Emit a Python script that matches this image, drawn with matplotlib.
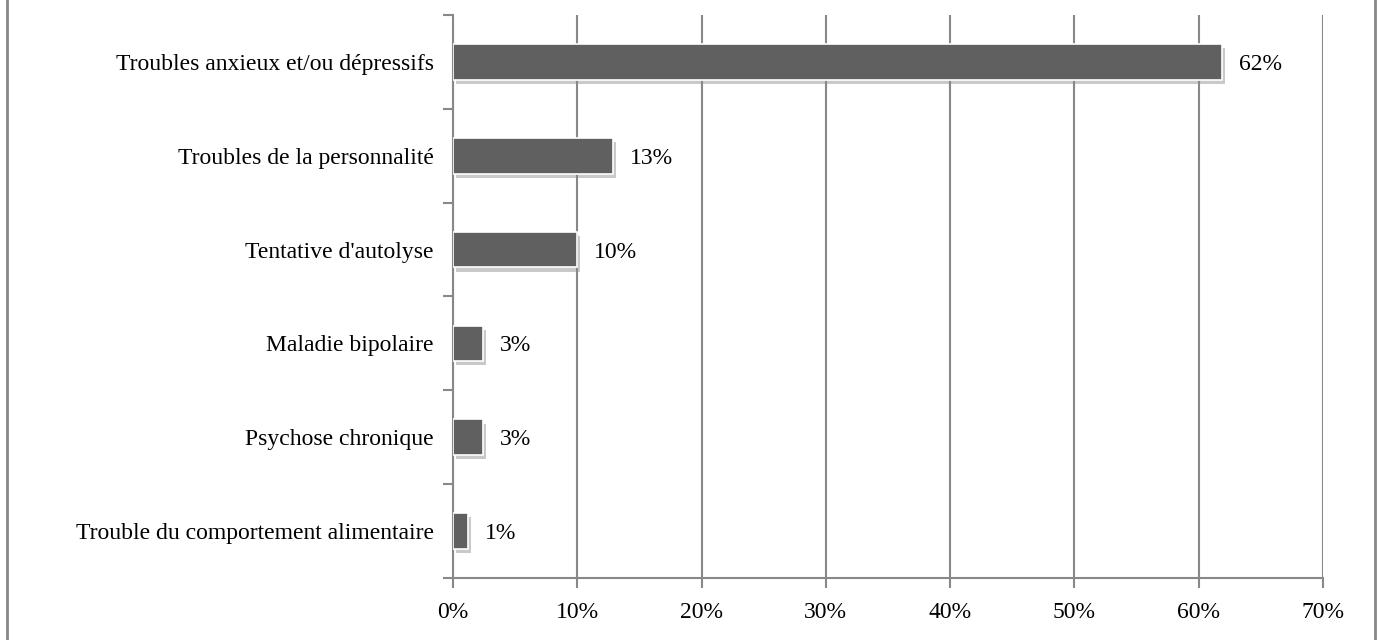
import matplotlib.pyplot as plt
from matplotlib.ticker import FixedLocator, PercentFormatter
import matplotlib.patheffects as pe

# data (top to bottom)
categories = ["Troubles anxieux et/ou dépressifs", "Troubles de la personnalité",
              "Tentative d'autolyse", "Maladie bipolaire", "Psychose chronique",
              "Trouble du comportement alimentaire"]
values = [61.9, 12.9, 10.0, 2.4, 2.4, 1.2]
labels = ["62%", "13%", "10%", "3%", "3%", "1%"]

plt.rcParams['font.family'] = ['Liberation Serif', 'DejaVu Serif']
grey = "#888888"
fs = 17

fig = plt.figure(figsize=(13.8, 6.4), dpi=100)
ax = fig.add_axes([453/1380, 1 - 578/640, 870/1380, 563/640])

ypos = list(range(len(categories)))[::-1]
bars = ax.barh(ypos, values, height=0.38, color="#606060", edgecolor="white",
               linewidth=1.2, zorder=3)
for b in bars:
    b.set_path_effects([pe.SimplePatchShadow(offset=(2, -3), shadow_rgbFace="#888888", alpha=0.45),
                        pe.Normal()])

for y, v, lab in zip(ypos, values, labels):
    ax.annotate(lab, (v, y), xytext=(12, 0), textcoords="offset points",
                va="center_baseline", ha="left", fontsize=fs)

ax.set_xlim(0, 70)
ax.set_ylim(-0.5, len(categories) - 0.5)
ax.set_xticks(range(0, 71, 10))
ax.xaxis.set_major_formatter(PercentFormatter(decimals=0))
ax.set_yticks(ypos)
ax.set_yticklabels(categories, va="center_baseline")
ax.yaxis.set_minor_locator(FixedLocator([i - 0.5 for i in range(len(categories) + 1)]))
ax.tick_params(axis="y", which="major", length=0, pad=14, labelsize=fs)
ax.tick_params(axis="y", which="minor", length=7, width=1.5, color=grey, direction="out")
ax.tick_params(axis="x", length=7, width=1.5, color=grey, direction="out", pad=10, labelsize=fs)

ax.grid(axis="x", color=grey, linewidth=1.5, zorder=0)
for s in ["top", "right"]:
    ax.spines[s].set_visible(False)
for s in ["left", "bottom"]:
    ax.spines[s].set_color(grey)
    ax.spines[s].set_linewidth(1.5)

# outer frame lines
fig.add_artist(plt.Line2D([7/1380, 7/1380], [0, 1], color=grey, linewidth=2))
fig.add_artist(plt.Line2D([1375/1380, 1375/1380], [0, 1], color=grey, linewidth=2))

fig.savefig("out.png", dpi=100)
